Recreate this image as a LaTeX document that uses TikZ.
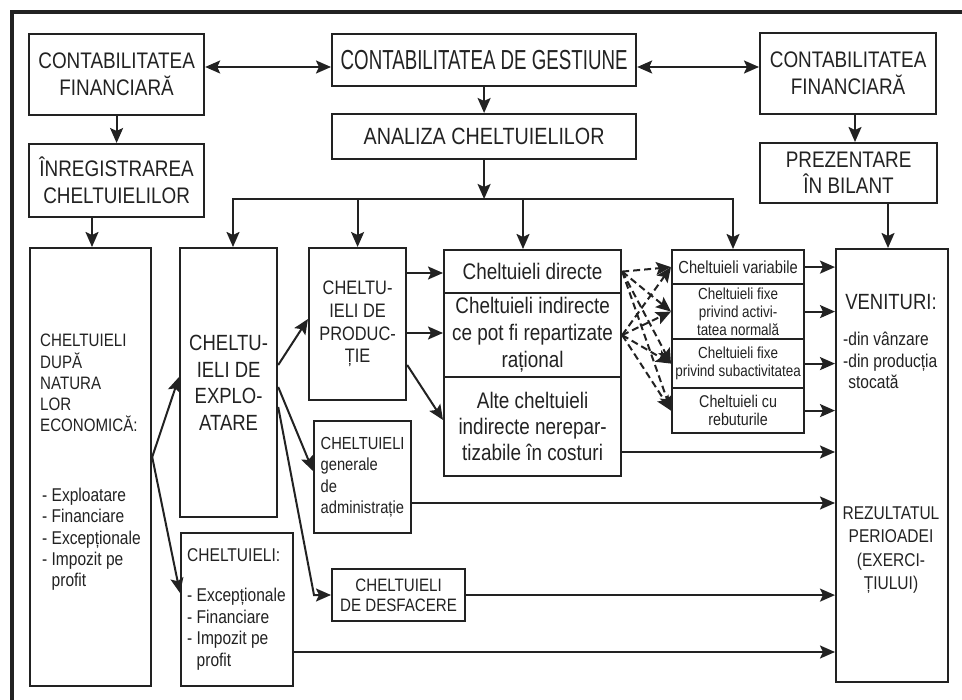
\documentclass[tikz,border=0pt]{standalone}
\usepackage{fontspec}
\setmainfont{Liberation Sans}[FakeStretch=0.84]
\newfontfamily\headfont{Liberation Sans}[FakeStretch=0.68]
\usetikzlibrary{arrows.meta}
\definecolor{ink}{HTML}{222222}
\tikzset{
  box/.style={draw=ink, line width=2.2pt, anchor=north west, inner sep=0pt,
              align=center, text=ink},
  sz/.style 2 args={minimum width=#1pt, minimum height=#2pt},
  fnt/.style 2 args={font=\fontsize{#1}{#2}\selectfont},
  lbl/.style={text=ink, inner sep=0pt},
  link/.style={draw=ink, line width=2pt, ->},
  dlink/.style={draw=ink, line width=2pt, ->, dash pattern=on 7pt off 4pt},
  >={Stealth[length=15pt,width=13pt,inset=3pt]},
}
\begin{document}
\begin{tikzpicture}[x=1pt, y=-1pt]
\useasboundingbox (0,0) rectangle (962,700);
\fill[white] (0,0) rectangle (962,700);

% outer frame: top and left edges only
\coordinate (fTL) at (12,12);
\coordinate (fTR) at (962,12);
\coordinate (fBL) at (12,700);
\draw[ink, line width=4pt] (fBL) -- (fTL) -- (fTR);

% top row
\node[box, sz={175}{81}, fnt={22.5}{27}] (cfL) at (28,33) {CONTABILITATEA\\FINANCIARĂ};
\node[box, sz={304}{52}, font=\headfont\fontsize{27.5}{30}\selectfont] (cg) at (331,33) {CONTABILITATEA DE GESTIUNE};
\node[box, sz={176}{81}, fnt={22.5}{27}] (cfR) at (759,32) {CONTABILITATEA\\FINANCIARĂ};
\node[box, sz={304}{45}, fnt={23.5}{27}] (an) at (331,113) {ANALIZA CHELTUIELILOR};
\node[box, sz={175}{73}, fnt={22.5}{27}] (inr) at (28,143) {ÎNREGISTRAREA\\CHELTUIELILOR};
\node[box, sz={177}{60}, fnt={22.5}{26}] (prez) at (759,142) {PREZENTARE\\ÎN BILANT};

% expenses by economic nature
\node[box, sz={121}{438}] (dupa) at (29,247) {};
\node[lbl, anchor=north west, align=left, fnt={18}{21.3}] (dupaT) at (40,334)
  {CHELTUIELI\\DUPĂ\\NATURA\\LOR\\ECONOMICĂ:};
\node[lbl, anchor=north west, align=left, fnt={18.5}{21.3}] (dupaL) at (42,488)
  {- Exploatare\\- Financiare\\- Excepționale\\- Impozit pe\\\hphantom{- }profit};

% operating and other expenses
\node[box, sz={97}{269}, fnt={22}{26.5}] (expl) at (179,247) {CHELTU-\\IELI DE\\EXPLO-\\ATARE};
\node[box, sz={112}{153}] (chx) at (180,532) {};
\node[lbl, anchor=north west, align=left, fnt={18.5}{21.5}] (chxT) at (187,548)
  {CHELTUIELI:\\[19pt]- Excepționale\\- Financiare\\- Impozit pe\\\hphantom{- }profit};

\node[box, sz={97}{152}, fnt={19.5}{22.7}] (prod) at (308,247) {CHELTU-\\IELI DE\\PRODUC-\\ȚIE};
\node[box, sz={97}{112}, fnt={17.5}{21.3}, align=left] (gadm) at (313,420)
  {CHELTUIELI\\generale\\de\\administrație};
\node[box, sz={133}{52}, fnt={18}{20}] (desf) at (331,568) {CHELTUIELI\\DE DESFACERE};

% cost categories
\node[box, sz={177}{43}, fnt={22.5}{27}] (cdir) at (443,249) {Cheltuieli directe};
\node[box, sz={177}{84}, fnt={22.5}{27}] (cind) at (443,292) {Cheltuieli indirecte\\ce pot fi repartizate\\rațional};
\node[box, sz={177}{99}, fnt={22.5}{26}] (calt) at (443,376) {Alte cheltuieli\\indirecte nerepar-\\tizabile în costuri};

\node[box, sz={132}{34}, fnt={17.5}{20}] (cvar) at (671,249) {Cheltuieli variabile};
\node[box, sz={132}{55}, fnt={16}{18}] (cfa) at (671,283) {Cheltuieli fixe\\privind activi-\\tatea normală};
\node[box, sz={132}{49}, fnt={16}{18.5}] (cfs) at (671,338) {Cheltuieli fixe\\privind subactivitatea};
\node[box, sz={132}{45}, fnt={17}{18.5}] (creb) at (671,387) {Cheltuieli cu\\rebuturile};

% revenues and result
\node[box, sz={112}{433}] (ven) at (835,248) {};
\node[lbl, anchor=base, fnt={22}{26}] (venT) at (891,310) {VENITURI:};
\node[lbl, anchor=north west, align=left, fnt={18.5}{21.5}] (venL) at (843,332)
  {-din vânzare\\-din producția\\\hphantom{-}stocată};
\node[lbl, align=center, fnt={18.5}{23.5}] (rez) at (891,550)
  {REZULTATUL\\PERIOADEI\\(EXERCI-\\ȚIULUI)};

% helper levels for connectors
\coordinate (yTop) at (0,67);
\coordinate (xP) at (855,0);
\coordinate (xV) at (888,0);
\coordinate (xD) at (92,0);
\coordinate (busL) at (233,199);
\coordinate (busR) at (733,199);
\coordinate (busD) at (523,199);
\coordinate (yDo) at (0,457);
\coordinate (yEi) at (0,377);
\coordinate (yCi) at (0,593);
\coordinate (yE1) at (0,365);
\coordinate (yP1) at (0,319);
\coordinate (yE2) at (0,387);
\coordinate (yG1) at (0,471);
\coordinate (yE3) at (0,407);
\coordinate (bend) at (314,595);
\coordinate (yR1) at (0,273);
\coordinate (yR2) at (0,333);
\coordinate (yR3) at (0,365);
\coordinate (yR4) at (0,420);
\coordinate (yAl) at (0,452);
\coordinate (yGa) at (0,503);
\coordinate (yCx) at (0,652);

% top connectors
\draw[link, <->] (cfL.east |- yTop) -- (cg.west |- yTop);
\draw[link, <->] (cg.east |- yTop) -- (cfR.west |- yTop);
\draw[link] (cg.south) -- (an.north);
\draw[link] (cfL.south) -- (inr.north);
\draw[link] (cfR.south -| xP) -- (prez.north -| xP);
\draw[link] (prez.south -| xV) -- (ven.north -| xV);
\draw[link] (inr.south -| xD) -- (dupa.north -| xD);

% distribution bus under the cost analysis
\draw[link] (an.south) -- (an.south |- busL);
\draw[link, <->, line join=miter] (expl.north -| busL) -- (busL) -- (busR) -- (cvar.north -| busR);
\draw[link] (prod.north |- busL) -- (prod.north);
\draw[link] (busD) -- (cdir.north -| busD);

% flows between expense groups
\draw[link] (dupa.east |- yDo) -- (expl.west |- yEi);
\draw[link] (dupa.east |- yDo) -- (chx.west |- yCi);
\draw[link] (expl.east |- yE1) -- (prod.west |- yP1);
\draw[link] (expl.east |- yE2) -- (gadm.west |- yG1);
\draw[link] (expl.east |- yE3) -- (bend) -- (desf.west |- bend);
\draw[link] (prod.east |- yR1) -- (cdir.west |- yR1);
\draw[link] (prod.east |- yR2) -- (cind.west |- yR2);
\draw[link] (prod.east |- yR3) -- (calt.west |- yR4);

% allocation of direct and indirect costs
\foreach \s in {cdir,cind}
  \foreach \t in {cvar,cfa,cfs,creb}
    \draw[dlink] (\s.east) -- (\t.west);

% into the result of the period
\foreach \b in {cvar,cfa,cfs,creb}
  \draw[link] (\b.east) -- (ven.west |- \b.east);
\draw[link] (calt.east |- yAl) -- (ven.west |- yAl);
\draw[link] (gadm.east |- yGa) -- (ven.west |- yGa);
\draw[link] (desf.east) -- (ven.west |- desf.east);
\draw[link] (chx.east |- yCx) -- (ven.west |- yCx);
\end{tikzpicture}
\end{document}
